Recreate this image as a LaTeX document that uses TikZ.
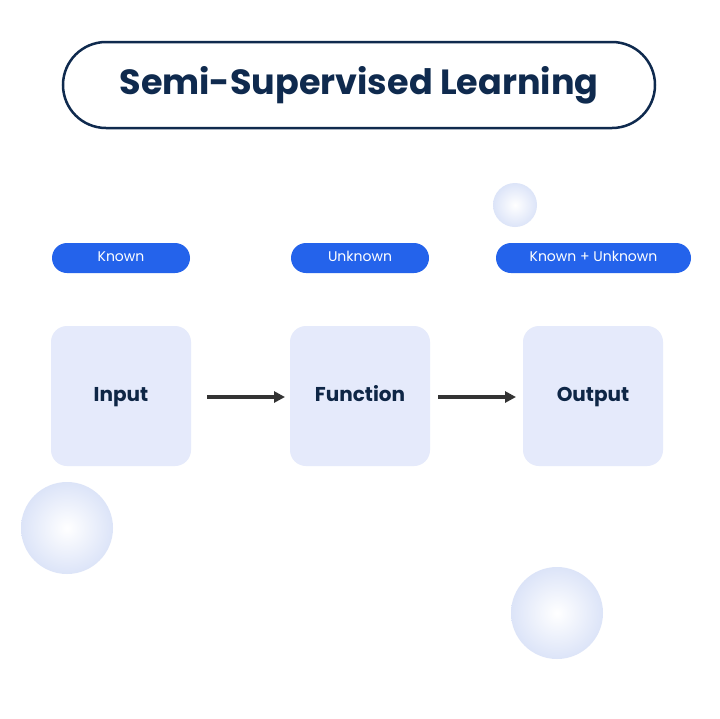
\documentclass[tikz,border=0pt]{standalone}
\usepackage{fontspec}
\setmainfont{Poppins}
\usetikzlibrary{arrows.meta}
\definecolor{navy}{HTML}{0F2A4E}
\definecolor{pillblue}{HTML}{2463EB}
\definecolor{boxfill}{HTML}{E5EAFB}
\definecolor{bubble}{HTML}{DCE4F8}
\begin{document}
\begin{tikzpicture}[x=1pt,y=-1pt,
  pill/.style={rectangle,rounded corners=15pt,fill=pillblue,text=white,font=\fontsize{14}{16}\selectfont,minimum height=30pt,inner sep=0pt,text height=10pt,text depth=3pt},
  box/.style={rectangle,rounded corners=16pt,fill=boxfill,text=navy!90!black,font=\fontsize{20}{24}\selectfont\bfseries,minimum width=140pt,minimum height=140pt,text height=15pt,text depth=5pt},
  arr/.style={-{Triangle[length=11pt,width=11pt]},line width=3.2pt,draw=black!80},
  bub/.style={inner color=white,outer color=bubble}]
\fill[white] (0,0) rectangle (720,718);
\shade[bub] (515,205) circle (22);
\shade[bub] (67,528) circle (46);
\shade[bub] (557,613) circle (46);
\node[rectangle,rounded corners=43pt,draw=navy,line width=2.5pt,minimum width=592pt,minimum height=86pt,text=navy,font=\fontsize{35}{42}\selectfont\bfseries] (title) at (359,85) {Semi-Supervised Learning};
\node[pill,minimum width=138pt] (p1) at (121,258) {Known};
\node[pill,minimum width=138pt] (p2) at (360,258) {Unknown};
\node[pill,minimum width=195pt] (p3) at (593.5,258) {Known + Unknown};
\node[box] (in) at (121,396) {Input};
\node[box] (fn) at (360,396) {Function};
\node[box] (out) at (593,396) {Output};
\coordinate (a1) at (207,397); \coordinate (a2) at (285,397);
\coordinate (b1) at (438,397); \coordinate (b2) at (516,397);
\draw[arr] (a1) -- (a2);
\draw[arr] (b1) -- (b2);
\end{tikzpicture}
\end{document}
